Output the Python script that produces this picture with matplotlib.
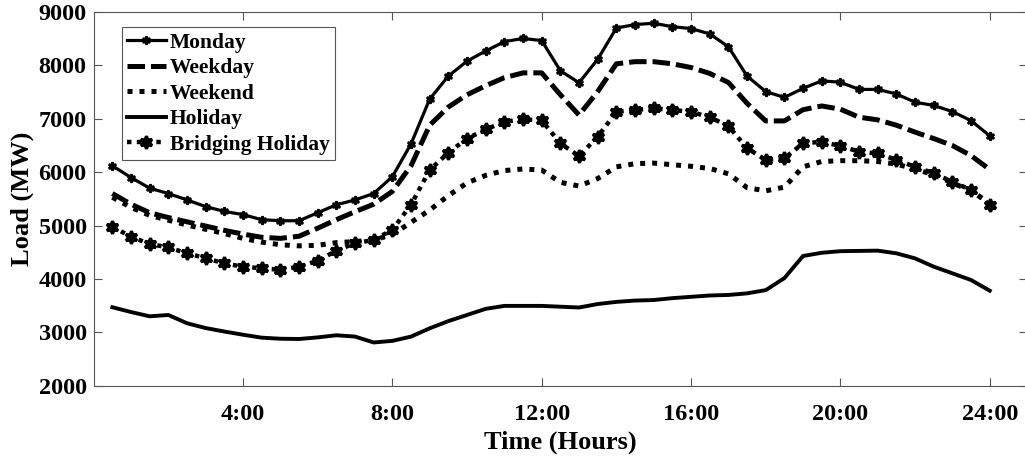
import numpy as np
import matplotlib
matplotlib.use("Agg")
import matplotlib.pyplot as plt

plt.rcParams["font.family"] = ["Liberation Serif", "DejaVu Serif"]
plt.rcParams["font.weight"] = "bold"

# half-hourly samples, 0:30 .. 24:00
hours = np.arange(0.5, 24.5, 0.5)

monday = [6120, 5900, 5700, 5600, 5480, 5355, 5265, 5205, 5110, 5090,
          5090, 5240, 5390, 5480, 5600, 5915, 6530, 7370, 7800, 8080,
          8270, 8445, 8505, 8465, 7900, 7675, 8115, 8700, 8765, 8790,
          8725, 8690, 8590, 8350, 7800, 7510, 7400, 7570, 7710, 7685,
          7550, 7550, 7465, 7310, 7250, 7135, 6965, 6680]
weekday = [5600, 5400, 5240, 5150, 5070, 4990, 4910, 4840, 4780, 4760,
           4800, 4950, 5110, 5260, 5400, 5640, 6120, 6880, 7220, 7450,
           7620, 7770, 7860, 7860, 7450, 7070, 7510, 8030, 8070, 8070,
           8030, 7960, 7850, 7680, 7290, 6960, 6960, 7170, 7240, 7180,
           7030, 6980, 6880, 6750, 6630, 6500, 6310, 6050]
weekend = [5530, 5340, 5190, 5100, 5010, 4930, 4850, 4760, 4690, 4640,
           4620, 4630, 4680, 4700, 4730, 4830, 5060, 5290, 5560, 5800,
           5940, 6030, 6060, 6040, 5810, 5740, 5880, 6100, 6160, 6170,
           6140, 6110, 6070, 5970, 5710, 5650, 5720, 6100, 6200, 6215,
           6215, 6200, 6150, 6060, 5950, 5800, 5650, 5420]
holiday = [3470, 3380, 3300, 3325, 3170, 3080, 3015, 2955, 2900, 2880,
           2875, 2905, 2945, 2920, 2810, 2840, 2920, 3075, 3210, 3325,
           3440, 3495, 3495, 3495, 3480, 3465, 3530, 3570, 3595, 3605,
           3640, 3665, 3690, 3700, 3730, 3790, 4015, 4430, 4490, 4520,
           4525, 4530, 4480, 4385, 4230, 4105, 3980, 3780]
bridging = [4980, 4790, 4655, 4590, 4480, 4390, 4290, 4230, 4200, 4170,
            4230, 4340, 4530, 4670, 4730, 4920, 5390, 6040, 6365, 6630,
            6800, 6945, 6990, 6970, 6540, 6300, 6665, 7130, 7165, 7195,
            7165, 7130, 7030, 6865, 6450, 6230, 6260, 6540, 6570, 6490,
            6385, 6350, 6230, 6100, 5980, 5820, 5665, 5390]

xticks = [4, 8, 12, 16, 20, 24]
xticklabels = ["4:00", "8:00", "12:00", "16:00", "20:00", "24:00"]
yticks = [2000, 3000, 4000, 5000, 6000, 7000, 8000, 9000]

star6 = (6, 1, 0)

fig = plt.figure(figsize=(10.25, 4.57), dpi=100)
ax = fig.add_axes([0.0914, 0.156, 0.9106, 0.8177])

ax.plot(hours, monday, color="black", lw=2.3, marker=star6, ms=6, mew=1.6,
        label="Monday")
ax.plot(hours, weekday, color="black", lw=3.6, dashes=(3.5, 1.2),
        dash_capstyle="butt", label="Weekday")
ax.plot(hours, weekend, color="black", lw=3.6, dashes=(1.0, 1.4),
        dash_capstyle="butt", label="Weekend")
ax.plot(hours, holiday, color="black", lw=2.8, label="Holiday")
ax.plot(hours, bridging, color="black", lw=3.2, dashes=(1.0, 1.2),
        dash_capstyle="butt", marker=star6, ms=9, mew=2.2,
        label="Bridging Holiday")

ax.set_xlim(0, 25)
ax.set_ylim(2000, 9000)
ax.set_xticks(xticks)
ax.set_xticklabels(xticklabels)
ax.set_yticks(yticks)
ax.tick_params(direction="in", length=6, width=0.8, color="#555555",
               top=True, right=True, labelsize=17.5)
ax.tick_params(axis="x", pad=13)
ax.tick_params(axis="y", pad=5)
for s in ax.spines.values():
    s.set_color("#555555")
    s.set_linewidth(0.8)

ax.set_xlabel("Time (Hours)", fontsize=19, fontweight="bold", labelpad=4)
ax.set_ylabel("Load (MW)", fontsize=19, fontweight="bold", labelpad=3)

leg = ax.legend(loc="upper left", bbox_to_anchor=(0.030, 0.959),
                fontsize=15.5, handlelength=1.8, handletextpad=0.2,
                labelspacing=0.25, borderpad=0.25, borderaxespad=0,
                fancybox=False, framealpha=1)
leg.get_frame().set_edgecolor("#555555")
leg.get_frame().set_linewidth(0.8)

fig.savefig("out.png", dpi=100)
